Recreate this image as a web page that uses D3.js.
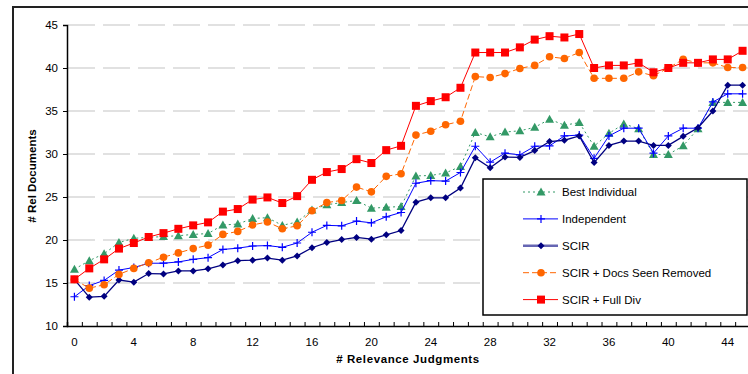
<!DOCTYPE html>
<html>
<head>
<meta charset="utf-8">
<script src="https://cdn.jsdelivr.net/npm/d3@7"></script>
<style>
  body { margin: 0; background: #fff; }
  svg { display: block; font-family: Arial, "Liberation Sans", sans-serif; }
</style>
</head>
<body>
<div id="chart"></div>
<script>
// judgments 0..45
var judgments = d3.range(0, 46);

var bestIndividual = [16.6, 17.6, 18.4, 19.7, 20.2, 20.3, 20.4, 20.5, 20.65, 20.75,
  21.75, 21.85, 22.5, 22.6, 21.7, 22.1, 23.5, 24.1, 24.35, 24.6,
  23.7, 23.8, 23.9, 27.45, 27.5, 27.8, 28.55, 32.5, 32.0, 32.55,
  32.7, 33.1, 34.05, 33.35, 33.65, 30.9, 32.4, 33.5, 32.95, 29.95,
  29.95, 30.95, 32.95, 36.0, 36.0, 36.0];

var independent = [13.4, 14.7, 15.3, 16.5, 16.8, 17.3, 17.3, 17.45, 17.75, 17.95,
  18.9, 19.05, 19.3, 19.35, 19.15, 19.65, 20.9, 21.7, 21.65, 22.2,
  22.0, 22.7, 23.2, 26.6, 26.9, 26.85, 27.85, 30.9, 29.05, 30.1,
  29.9, 30.9, 30.95, 32.1, 32.2, 29.5, 32.1, 33.0, 33.0, 30.1,
  32.1, 33.0, 33.0, 36.05, 37.0, 37.0];

var scir = [15.4, 13.35, 13.45, 15.35, 15.1, 16.1, 16.05, 16.4, 16.4, 16.65,
  17.1, 17.6, 17.65, 17.9, 17.65, 18.15, 19.1, 19.7, 20.05, 20.3,
  20.1, 20.6, 21.1, 24.4, 24.9, 24.9, 26.05, 29.55, 28.4, 29.65,
  29.6, 30.4, 31.45, 31.6, 32.1, 29.0, 31.0, 31.5, 31.5, 31.0,
  31.0, 32.05, 33.05, 35.0, 38.0, 38.0];

var docsSeenRemoved = [15.4, 14.4, 14.8, 16.0, 16.7, 17.35, 18.0, 18.5, 19.0, 19.4,
  20.65, 21.0, 21.75, 22.1, 21.3, 21.65, 23.4, 24.35, 24.6, 26.15,
  25.6, 27.4, 27.7, 32.2, 32.65, 33.4, 33.8, 39.0, 38.9, 39.35,
  39.95, 40.3, 41.3, 41.1, 41.8, 38.8, 38.8, 38.8, 39.55, 39.1,
  40.0, 41.0, 40.6, 40.6, 40.05, 40.05];

var fullDiv = [15.43, 16.7, 17.75, 19.0, 19.65, 20.35, 20.8, 21.3, 21.7, 22.05,
  23.3, 23.6, 24.7, 24.95, 24.3, 25.1, 27.0, 27.9, 28.25, 29.4,
  28.95, 30.45, 30.95, 35.6, 36.15, 36.6, 37.7, 41.8, 41.8, 41.8,
  42.4, 43.3, 43.7, 43.55, 43.95, 40.0, 40.3, 40.3, 40.6, 39.5,
  40.0, 40.6, 40.6, 41.0, 41.0, 42.0];

var seriesNames = ["Best Individual", "Independent", "SCIR", "SCIR + Docs Seen Removed", "SCIR + Full Div"];
var yTicks = [10, 15, 20, 25, 30, 35, 40, 45];
var xLabels = [0, 4, 8, 12, 16, 20, 24, 28, 32, 36, 40, 44];

var series = [
  {name: seriesNames[0], values: bestIndividual, color: "#339966", dash: "2,3", width: 1, marker: "triangle"},
  {name: seriesNames[1], values: independent, color: "#0000ff", dash: null, width: 1, marker: "plus"},
  {name: seriesNames[2], values: scir, color: "#000080", dash: null, width: 1.3, marker: "diamond"},
  {name: seriesNames[3], values: docsSeenRemoved, color: "#ff6600", dash: "6,3", width: 1, marker: "circle"},
  {name: seriesNames[4], values: fullDiv, color: "#ff0000", dash: null, width: 1, marker: "square"}
];

var W = 748, H = 374;
var plotLeft = 67, plotRight = 750, plotTop = 25, plotBottom = 326;

var svg = d3.select("#chart").append("svg")
  .attr("width", W)
  .attr("height", H);

// outer frame
svg.append("rect")
  .attr("x", 13).attr("y", 7)
  .attr("width", 800).attr("height", 400)
  .attr("fill", "#fff")
  .attr("stroke", "#222")
  .attr("stroke-width", 2);

var x = d3.scaleBand().domain(judgments).range([plotLeft, plotRight]);
var xEdge = d3.scaleLinear().domain([0, judgments.length]).range([plotLeft, plotRight]);
var y = d3.scaleLinear().domain([10, 45]).range([plotBottom, plotTop]);

// gridlines
svg.append("g")
  .selectAll("line")
  .data(yTicks.slice(1))
  .enter().append("line")
  .attr("x1", plotLeft + 1).attr("x2", W)
  .attr("y1", function(d) { return y(d); })
  .attr("y2", function(d) { return y(d); })
  .attr("stroke", "#c4c4c4")
  .attr("stroke-width", 1.2)
  .attr("stroke-dasharray", "27,8");

// y axis
var yAxis = svg.append("g")
  .attr("transform", "translate(" + plotLeft + ",0)")
  .call(d3.axisLeft(y).tickValues(yTicks).tickSize(4).tickPadding(5));
yAxis.select(".domain").attr("stroke", "#000").attr("stroke-width", 1.5);
yAxis.selectAll("text").style("font-size", "11.5px").attr("fill", "#000");

// x axis: tick marks at category edges
var xTickG = svg.append("g")
  .attr("transform", "translate(0," + plotBottom + ")")
  .call(d3.axisBottom(xEdge).tickValues(d3.range(0, judgments.length + 1)).tickSize(-4).tickFormat(""));
xTickG.select(".domain").attr("stroke", "#000").attr("stroke-width", 1.5);

var xLabG = svg.append("g")
  .attr("transform", "translate(0," + plotBottom + ")")
  .call(d3.axisBottom(x).tickValues(xLabels).tickSize(0).tickPadding(12));
xLabG.select(".domain").remove();
xLabG.selectAll("text").style("font-size", "11.5px").attr("fill", "#000");

// axis titles
svg.append("text")
  .attr("x", 408).attr("y", 363)
  .attr("text-anchor", "middle")
  .style("font-size", "11.5px")
  .style("font-weight", "bold")
  .style("letter-spacing", "0.6px")
  .text("# Relevance Judgments");

svg.append("text")
  .attr("transform", "translate(36,176) rotate(-90)")
  .attr("text-anchor", "middle")
  .style("font-size", "11.5px")
  .style("font-weight", "bold")
  .text("# Rel Documents");

function cx(i) { return x(i) + x.bandwidth() / 2; }

function drawMarker(g, type, px, py, color) {
  if (type === "triangle") {
    g.append("path").attr("d", "M" + px + "," + (py - 4.5) + "L" + (px + 4.5) + "," + (py + 3.5) + "L" + (px - 4.5) + "," + (py + 3.5) + "Z")
      .attr("fill", color);
  } else if (type === "plus") {
    g.append("path").attr("d", "M" + (px - 4) + "," + py + "H" + (px + 4) + "M" + px + "," + (py - 4) + "V" + (py + 4))
      .attr("stroke", color).attr("stroke-width", 1.2).attr("fill", "none");
  } else if (type === "diamond") {
    g.append("path").attr("d", "M" + px + "," + (py - 3.5) + "L" + (px + 3.5) + "," + py + "L" + px + "," + (py + 3.5) + "L" + (px - 3.5) + "," + py + "Z")
      .attr("fill", color);
  } else if (type === "circle") {
    g.append("circle").attr("cx", px).attr("cy", py).attr("r", 3.8).attr("fill", color);
  } else if (type === "square") {
    g.append("rect").attr("x", px - 4).attr("y", py - 4).attr("width", 8).attr("height", 8).attr("fill", color);
  }
}

var line = d3.line()
  .x(function(d, i) { return cx(i); })
  .y(function(d) { return y(d); });

series.forEach(function(s) {
  var g = svg.append("g");
  g.append("path")
    .datum(s.values)
    .attr("d", line)
    .attr("fill", "none")
    .attr("stroke", s.color)
    .attr("stroke-width", s.width)
    .attr("stroke-dasharray", s.dash);
  s.values.forEach(function(v, i) {
    drawMarker(g, s.marker, cx(i), y(v), s.color);
  });
});

// legend
var lg = svg.append("g");
lg.append("rect")
  .attr("x", 483).attr("y", 179)
  .attr("width", 264).attr("height", 136)
  .attr("fill", "#fff")
  .attr("stroke", "#000")
  .attr("stroke-width", 1.5);

series.forEach(function(s, i) {
  var ly = 192 + i * 26.9;
  lg.append("line")
    .attr("x1", 523).attr("x2", 558)
    .attr("y1", ly).attr("y2", ly)
    .attr("stroke", s.color)
    .attr("stroke-width", s.marker === "diamond" ? 2.5 : s.width)
    .attr("stroke-opacity", s.marker === "diamond" ? 0.6 : 1)
    .attr("stroke-dasharray", s.dash);
  drawMarker(lg, s.marker, 541, ly, s.color);
  lg.append("text")
    .attr("x", 562).attr("y", ly)
    .attr("dy", "0.36em")
    .style("font-size", "11.5px")
    .text(s.name);
});
</script>
</body>
</html>
